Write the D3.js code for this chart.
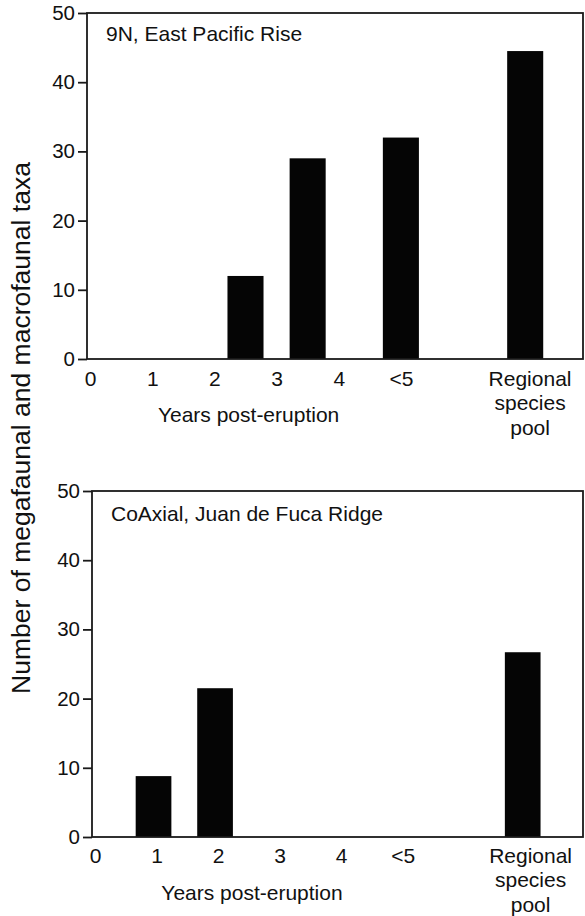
<!DOCTYPE html>
<html>
<head>
<meta charset="utf-8">
<title>Taxa post-eruption</title>
<style>
  body { margin: 0; background: #fff; }
  svg text { font-family: "Liberation Sans", Arial, Helvetica, sans-serif; fill: #111; }
</style>
</head>
<body>
<script src="https://cdn.jsdelivr.net/npm/d3@7"></script>
<script>
// categories on the x axis (label positions in "years" units)
var tickLabels = ["0", "1", "2", "3", "4", "<5", "Regional"];
var tickPos = [0, 1, 2, 3, 4, 5, 7.07];
var yTicks = [0, 10, 20, 30, 40, 50];

// 9N, East Pacific Rise
var eprPos = [2.5, 3.5, 5, 7];
var eprVals = [12, 29, 32, 44.5];

// CoAxial, Juan de Fuca Ridge
var coaxPos = [0.95, 1.95, 6.95];
var coaxVals = [8.8, 21.5, 26.7];

var W = 585, H = 916;
var svg = d3.select("body").append("svg")
  .attr("width", W)
  .attr("height", H);

var panels = [
  { title: "9N, East Pacific Rise", pos: eprPos, vals: eprVals,
    left: 87, right: 583, top: 13, bottom: 359, titleDy: 28, tickDy: 12 },
  { title: "CoAxial, Juan de Fuca Ridge", pos: coaxPos, vals: coaxVals,
    left: 92, right: 583, top: 491, bottom: 837, titleDy: 30, tickDy: 11 }
];

panels.forEach(function (p) {
  var x = d3.scaleLinear().domain([-0.05, 7.93]).range([p.left, p.right]);
  var y = d3.scaleLinear().domain([0, 50]).range([p.bottom, p.top]);
  var barW = x(0.58) - x(0);

  var g = svg.append("g");

  // bars
  g.selectAll("rect.bar")
    .data(p.vals)
    .enter().append("rect")
    .attr("class", "bar")
    .attr("x", function (d, i) { return x(p.pos[i]) - barW / 2; })
    .attr("y", function (d) { return y(d); })
    .attr("width", barW)
    .attr("height", function (d) { return y(0) - y(d); })
    .style("fill", "#050505");

  // frame
  g.append("rect")
    .attr("x", p.left)
    .attr("y", p.top)
    .attr("width", p.right - p.left)
    .attr("height", p.bottom - p.top)
    .style("fill", "none")
    .style("stroke", "#1a1a1a")
    .style("stroke-width", 1.8);

  // y axis
  var yAxis = g.append("g")
    .attr("transform", "translate(" + p.left + ",0)")
    .call(d3.axisLeft(y).tickValues(yTicks).tickSize(9).tickPadding(3));
  yAxis.select(".domain").remove();
  yAxis.selectAll("line").style("stroke", "#1a1a1a").style("stroke-width", 1.8);
  yAxis.selectAll("text").style("font-size", "20.5px").style("fill", "#111");

  // x labels (no tick marks)
  var xAxis = g.append("g")
    .attr("transform", "translate(0," + p.bottom + ")")
    .call(d3.axisBottom(x).tickValues(tickPos).tickSize(0).tickPadding(p.tickDy)
      .tickFormat(function (d, i) { return tickLabels[i]; }));
  xAxis.select(".domain").remove();
  xAxis.selectAll("text").style("font-size", "21px").style("fill", "#111");

  // multi-line "Regional species pool"
  xAxis.selectAll("text")
    .filter(function (d, i) { return tickLabels[i] === "Regional"; })
    .each(function () {
      var t = d3.select(this);
      t.text(null);
      ["Regional", "species", "pool"].forEach(function (s, k) {
        t.append("tspan")
          .attr("x", 0)
          .attr("dy", k === 0 ? "0.71em" : "1.17em")
          .text(s);
      });
      t.attr("dy", null);
    });

  g.append("text")
    .attr("x", x(2.55))
    .attr("y", p.bottom + 63)
    .attr("text-anchor", "middle")
    .style("font-size", "21px")
    .text("Years post-eruption");

  g.append("text")
    .attr("x", p.left + 19)
    .attr("y", p.top + p.titleDy)
    .style("font-size", "21px")
    .text(p.title);
});

svg.append("text")
  .attr("transform", "translate(30,428) rotate(-90)")
  .attr("text-anchor", "middle")
  .style("font-size", "26.5px")
  .text("Number of megafaunal and macrofaunal taxa");
</script>
</body>
</html>
